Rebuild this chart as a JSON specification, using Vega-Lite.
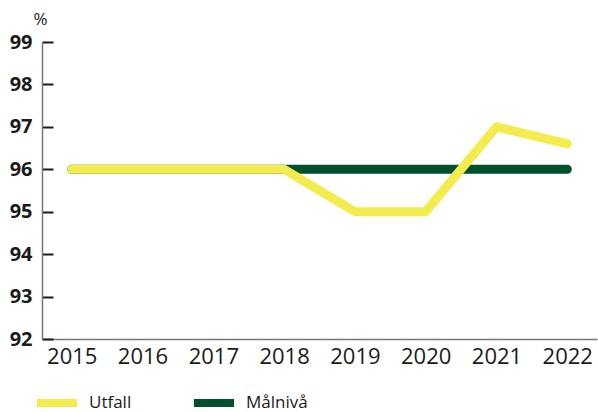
{
  "$schema": "https://vega.github.io/schema/vega-lite/v6.json",
  "width": 555,
  "height": 297,
  "autosize": {"type": "none"},
  "padding": {"left": 42, "top": 42, "right": 1, "bottom": 73},
  "background": "white",
  "config": {"view": {"stroke": null}, "font": "Open Sans"},
  "data": {"values": [
    {"year": "2015", "series": "Utfall", "value": 96},
    {"year": "2016", "series": "Utfall", "value": 96},
    {"year": "2017", "series": "Utfall", "value": 96},
    {"year": "2018", "series": "Utfall", "value": 96},
    {"year": "2019", "series": "Utfall", "value": 95},
    {"year": "2020", "series": "Utfall", "value": 95},
    {"year": "2021", "series": "Utfall", "value": 97},
    {"year": "2022", "series": "Utfall", "value": 96.6},
    {"year": "2015", "series": "Målnivå", "value": 96},
    {"year": "2016", "series": "Målnivå", "value": 96},
    {"year": "2017", "series": "Målnivå", "value": 96},
    {"year": "2018", "series": "Målnivå", "value": 96},
    {"year": "2019", "series": "Målnivå", "value": 96},
    {"year": "2020", "series": "Målnivå", "value": 96},
    {"year": "2021", "series": "Målnivå", "value": 96},
    {"year": "2022", "series": "Målnivå", "value": 96}
  ]},
  "encoding": {
    "x": {"field": "year", "type": "ordinal",
      "scale": {"type": "point", "padding": 0.42},
      "axis": {"title": null, "labelAngle": 0, "ticks": false, "domainColor": "#777777", "domainWidth": 1.5,
        "labelFontSize": 22, "labelColor": "#1a1a1a", "labelPadding": 7, "labelFont": "Open Sans"}},
    "y": {"field": "value", "type": "quantitative",
      "scale": {"domain": [92, 99], "nice": false, "zero": false},
      "axis": {"values": [92, 93, 94, 95, 96, 97, 98, 99], "grid": false,
        "title": "%", "titleAngle": 0, "titleX": 5, "titleY": -18, "titleAlign": "right", "titleBaseline": "alphabetic",
        "titleFontSize": 17, "titleFontWeight": "normal", "titleColor": "#1a1a1a",
        "tickSize": -11, "tickWidth": 2, "tickColor": "#1a1a1a",
        "domainColor": "#777777", "domainWidth": 1.5,
        "labelFontSize": 20, "labelFontWeight": "bold", "labelColor": "#1a1a1a", "labelPadding": 21}},
    "color": {"field": "series", "type": "nominal",
      "scale": {"domain": ["Utfall", "Målnivå"], "range": ["#F2EC4E", "#004F2D"]},
      "legend": {"title": null, "orient": "none", "legendX": -9, "legendY": 337, "direction": "horizontal",
        "symbolType": "stroke", "symbolSize": 1600, "symbolStrokeWidth": 8, "columnPadding": 46,
        "labelFontSize": 17, "labelColor": "#1a1a1a", "labelOffset": 8}}
  },
  "layer": [
    {"transform": [{"filter": "datum.series == 'Målnivå'"}],
     "mark": {"type": "line", "strokeWidth": 9, "strokeCap": "round", "strokeJoin": "round"}},
    {"transform": [{"filter": "datum.series == 'Utfall'"}],
     "mark": {"type": "line", "strokeWidth": 9, "strokeCap": "round", "strokeJoin": "round"}}
  ]
}
